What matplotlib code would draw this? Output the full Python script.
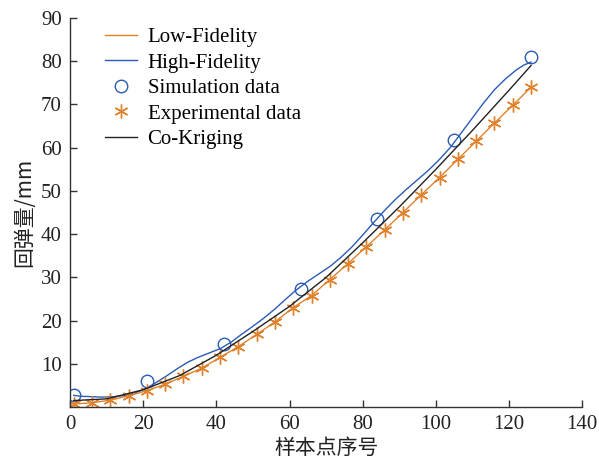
import matplotlib
matplotlib.use("Agg")
import matplotlib.pyplot as plt

# Experimental (low-fidelity) data
exp_x = [1, 6, 11, 16, 21, 26, 31, 36, 41, 46, 51, 56, 61, 66, 71, 76, 81, 86, 91, 96,
         101, 106, 111, 116, 121, 126]
exp_y = [0.7, 1.0, 1.6, 2.6, 3.8, 5.3, 7.1, 9.0, 11.5, 14.0, 16.8, 19.7, 23.0, 25.8,
         29.5, 33.2, 37.1, 41.0, 45.0, 49.1, 53.1, 57.3, 61.5, 65.7, 69.8, 74.0]

# Simulation (high-fidelity) data
sim_x = [1, 21, 42, 63, 84, 105, 126]
sim_y = [2.9, 6.1, 14.7, 27.3, 43.5, 61.8, 81.0]

# High-Fidelity curve
hf_x = [1, 3, 6, 9, 12, 15, 17, 19, 21, 23, 26, 29, 32, 35, 38, 41, 44, 47, 50, 53,
        56, 59, 62, 65, 68, 71, 74, 77, 80, 83, 86, 89, 92, 95, 98, 101, 104, 107,
        110, 113, 116, 119, 122, 124, 126]
hf_y = [2.7, 2.5, 2.4, 2.3, 2.4, 2.7, 3.1, 3.7, 4.4, 5.4, 7.0, 8.7, 10.3, 11.5, 12.5,
        13.5, 15.0, 16.9, 18.7, 20.6, 22.7, 25.0, 27.2, 29.1, 30.8, 32.5, 34.6, 37.0,
        39.8, 42.7, 45.5, 48.1, 50.4, 52.6, 54.8, 57.3, 60.1, 63.5, 66.9, 70.3, 73.4,
        75.9, 78.0, 79.1, 79.8]

# Co-Kriging curve
ck_x = [1, 10, 20, 30, 40, 50, 60, 70, 80, 90, 100, 110, 120, 126]
ck_y = [1.5, 1.9, 4.0, 7.3, 12.0, 17.5, 23.3, 30.0, 38.0, 46.3, 55.0, 64.0, 73.3, 79.0]

xticks = [0, 20, 40, 60, 80, 100, 120, 140]
yticks = [10, 20, 30, 40, 50, 60, 70, 80, 90]

orange = "#E0822C"
blue = "#2B5BB5"

serif = ["Liberation Serif", "Noto Sans CJK SC"]
cjk = ["Noto Sans CJK SC", "Liberation Serif"]
fs = 15

fig = plt.figure(figsize=(5.99, 4.61), dpi=100)
ax = fig.add_axes([0.117, 0.117, 0.855, 0.844])

ax.plot(exp_x, exp_y, color=orange, lw=1.0, label="Low-Fidelity")
ax.plot(hf_x, hf_y, color=blue, lw=1.0, label="High-Fidelity")
ax.plot(sim_x, sim_y, linestyle="none", marker="o", markersize=9, markerfacecolor="none",
        markeredgecolor=blue, markeredgewidth=1.0, label="Simulation data")
ax.plot(exp_x, exp_y, linestyle="none", marker=(6, 2, 0), markersize=10,
        markeredgecolor=orange, markeredgewidth=1.0, label="Experimental data")
ax.plot(ck_x, ck_y, color="#222222", lw=1.0, label="Co-Kriging")

ax.set_xlim(0, 140)
ax.set_ylim(0, 90)
ax.set_xticks(xticks)
ax.set_yticks(yticks)
for s in ["top", "right"]:
    ax.spines[s].set_visible(False)
for s in ["left", "bottom"]:
    ax.spines[s].set_color("#333333")
    ax.spines[s].set_linewidth(1.0)
ax.tick_params(direction="in", length=5, width=1.0, color="#333333", labelsize=fs, pad=6)
for lab in ax.get_xticklabels() + ax.get_yticklabels():
    lab.set_family(serif)
    lab.set_color("#222222")

ax.set_xlabel("样本点序号", family=cjk, fontsize=fs, labelpad=2, color="#222222")
ax.set_ylabel("回弹量/mm", family=cjk, fontsize=fs, labelpad=4, color="#222222")

leg = ax.legend(loc="upper left", bbox_to_anchor=(0.068, 0.975), frameon=False,
                prop={"family": serif, "size": fs}, handlelength=1.55,
                handletextpad=0.5, labelspacing=0.28, borderaxespad=0, borderpad=0)

fig.savefig("out.png", dpi=100)
